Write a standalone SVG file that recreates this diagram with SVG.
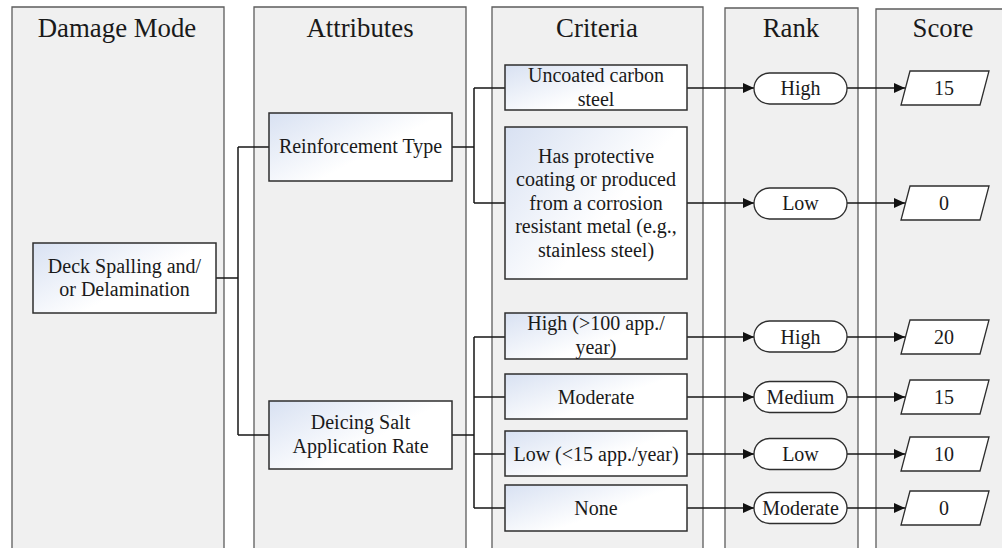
<svg xmlns="http://www.w3.org/2000/svg" width="1002" height="548" viewBox="0 0 1002 548">
  <defs>
    <linearGradient id="boxFill" x1="0" y1="0" x2="1" y2="0.7">
      <stop offset="0" stop-color="#d8e1f2"/>
      <stop offset="0.65" stop-color="#ffffff"/>
      <stop offset="1" stop-color="#ffffff"/>
    </linearGradient>
    <marker id="arrow" viewBox="0 0 11 10" refX="11" refY="5" markerWidth="11" markerHeight="10" markerUnits="userSpaceOnUse" orient="auto">
      <path d="M0,0 L11,5 L0,10 Z" fill="#111"/>
    </marker>
  </defs>
  <style>
    .lane { fill: #f0f0f0; stroke: #5c5c5c; stroke-width: 1.3; }
    .head { font-family: 'Liberation Serif', 'Times New Roman', serif; font-size: 26.8px; fill: #1a1a1a; text-anchor: middle; }
    .box { fill: url(#boxFill); stroke: #2e2e2e; stroke-width: 1.5; }
    .pill { fill: #ffffff; stroke: #2e2e2e; stroke-width: 1.3; }
    .para { fill: #ffffff; stroke: #2e2e2e; stroke-width: 1.3; }
    .lbl { font-family: 'Liberation Serif', 'Times New Roman', serif; font-size: 20px; fill: #1a1a1a; text-anchor: middle; }
    .wire { fill: none; stroke: #161616; stroke-width: 1.5; }
    .arr { fill: none; stroke: #161616; stroke-width: 1.5; marker-end: url(#arrow); }
  </style>

  <!-- swimlanes -->
  <g id="lanes">
    <path class="lane" d="M12,560 V7 H224 V560"/>
    <path class="lane" d="M254,560 V7 H466 V560"/>
    <path class="lane" d="M492,560 V7 H703 V560"/>
    <path class="lane" d="M725,560 V8 H858 V560"/>
    <path class="lane" d="M876,560 V9 H1012 V560"/>
    <text class="head" x="117" y="37">Damage Mode</text>
    <text class="head" x="360" y="37">Attributes</text>
    <text class="head" x="597" y="37">Criteria</text>
    <text class="head" x="791" y="37">Rank</text>
    <text class="head" x="943" y="37">Score</text>
  </g>

  <!-- connectors -->
  <g id="connectors">
    <path class="wire" d="M216,278 H238"/>
    <path class="wire" d="M238,147 V435"/>
    <path class="wire" d="M238,147 H269"/>
    <path class="wire" d="M238,435 H269"/>

    <path class="wire" d="M452,147 H474 M474,88 V203 M474,88 H505 M474,203 H505"/>
    <path class="wire" d="M452,435 H474 M474,337 V508 M474,337 H505 M474,397 H505 M474,454 H505 M474,508 H505"/>

    <path class="arr" d="M687,88 H754"/>
    <path class="arr" d="M687,203 H754"/>
    <path class="arr" d="M687,337 H754"/>
    <path class="arr" d="M687,397 H754"/>
    <path class="arr" d="M687,454 H754"/>
    <path class="arr" d="M687,508 H754"/>

    <path class="arr" d="M847,88 H905"/>
    <path class="arr" d="M847,203 H905"/>
    <path class="arr" d="M847,337 H905"/>
    <path class="arr" d="M847,397 H905"/>
    <path class="arr" d="M847,454 H905"/>
    <path class="arr" d="M847,508 H905"/>
  </g>

  <!-- damage mode -->
  <g id="deck-spalling">
    <rect class="box" x="33" y="243" width="183" height="70"/>
    <text class="lbl" x="124.5" y="273">Deck Spalling and/</text>
    <text class="lbl" x="124.5" y="296">or Delamination</text>
  </g>

  <!-- attributes -->
  <g id="reinforcement-type">
    <rect class="box" x="269" y="113" width="183" height="68"/>
    <text class="lbl" x="360.5" y="153">Reinforcement Type</text>
  </g>
  <g id="deicing-salt">
    <rect class="box" x="269" y="401" width="183" height="68"/>
    <text class="lbl" x="360.5" y="428.5">Deicing Salt</text>
    <text class="lbl" x="360.5" y="452.5">Application Rate</text>
  </g>

  <!-- criteria -->
  <g id="crit-uncoated">
    <rect class="box" x="505" y="65" width="182" height="45"/>
    <text class="lbl" x="596" y="82">Uncoated carbon</text>
    <text class="lbl" x="596" y="106">steel</text>
  </g>
  <g id="crit-protective">
    <rect class="box" x="505" y="127" width="182" height="152"/>
    <text class="lbl" x="596" y="162.5">Has protective</text>
    <text class="lbl" x="596" y="186">coating or produced</text>
    <text class="lbl" x="596" y="209.5">from a corrosion</text>
    <text class="lbl" x="596" y="233">resistant metal (e.g.,</text>
    <text class="lbl" x="596" y="256.5">stainless steel)</text>
  </g>
  <g id="crit-high">
    <rect class="box" x="505" y="313" width="182" height="46"/>
    <text class="lbl" x="596" y="329.5">High (&gt;100 app./</text>
    <text class="lbl" x="596" y="353.5">year)</text>
  </g>
  <g id="crit-moderate">
    <rect class="box" x="505" y="374" width="182" height="45"/>
    <text class="lbl" x="596" y="403.5">Moderate</text>
  </g>
  <g id="crit-low">
    <rect class="box" x="505" y="431" width="182" height="45"/>
    <text class="lbl" x="596" y="460.5">Low (&lt;15 app./year)</text>
  </g>
  <g id="crit-none">
    <rect class="box" x="505" y="485" width="182" height="46"/>
    <text class="lbl" x="596" y="514.5">None</text>
  </g>

  <!-- rank -->
  <g id="rank-1">
    <rect class="pill" x="754" y="73" width="93" height="31" rx="15.5"/>
    <text class="lbl" x="800.5" y="95">High</text>
  </g>
  <g id="rank-2">
    <rect class="pill" x="754" y="188" width="93" height="31" rx="15.5"/>
    <text class="lbl" x="800.5" y="210">Low</text>
  </g>
  <g id="rank-3">
    <rect class="pill" x="754" y="321" width="93" height="31" rx="15.5"/>
    <text class="lbl" x="800.5" y="343.5">High</text>
  </g>
  <g id="rank-4">
    <rect class="pill" x="754" y="381.5" width="93" height="31" rx="15.5"/>
    <text class="lbl" x="800.5" y="404">Medium</text>
  </g>
  <g id="rank-5">
    <rect class="pill" x="754" y="438.5" width="93" height="31" rx="15.5"/>
    <text class="lbl" x="800.5" y="460.5">Low</text>
  </g>
  <g id="rank-6">
    <rect class="pill" x="754" y="492.5" width="93" height="31" rx="15.5"/>
    <text class="lbl" x="800.5" y="515">Moderate</text>
  </g>

  <!-- score -->
  <g id="score-1">
    <path class="para" d="M910,71 H989 L980,105 H901 Z"/>
    <text class="lbl" x="944" y="95">15</text>
  </g>
  <g id="score-2">
    <path class="para" d="M910,186 H989 L980,220 H901 Z"/>
    <text class="lbl" x="944" y="210">0</text>
  </g>
  <g id="score-3">
    <path class="para" d="M910,320 H989 L980,354 H901 Z"/>
    <text class="lbl" x="944" y="344">20</text>
  </g>
  <g id="score-4">
    <path class="para" d="M910,380 H989 L980,414 H901 Z"/>
    <text class="lbl" x="944" y="404">15</text>
  </g>
  <g id="score-5">
    <path class="para" d="M910,437 H989 L980,471 H901 Z"/>
    <text class="lbl" x="944" y="461">10</text>
  </g>
  <g id="score-6">
    <path class="para" d="M910,491 H989 L980,525 H901 Z"/>
    <text class="lbl" x="944" y="515">0</text>
  </g>
</svg>
